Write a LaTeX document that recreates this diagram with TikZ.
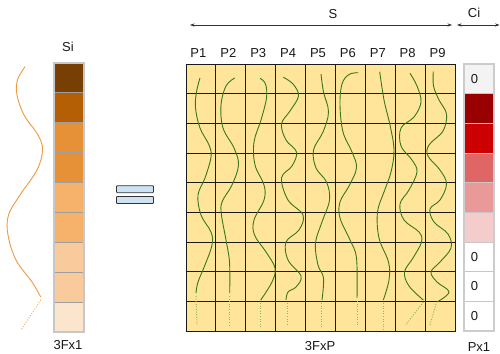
\documentclass[tikz,border=0pt]{standalone}
\usepackage{fontspec}
\setmainfont{Liberation Sans}
\usetikzlibrary{arrows.meta}
\definecolor{gridfill}{HTML}{FFE599}
\definecolor{sA}{HTML}{783F04}
\definecolor{sB}{HTML}{B45F06}
\definecolor{sC}{HTML}{E69138}
\definecolor{sD}{HTML}{F6B26B}
\definecolor{sE}{HTML}{F9CB9C}
\definecolor{sF}{HTML}{FCE5CD}
\definecolor{cA}{HTML}{F3F3F3}
\definecolor{cB}{HTML}{990000}
\definecolor{cC}{HTML}{CC0000}
\definecolor{cD}{HTML}{E06666}
\definecolor{cE}{HTML}{EA9999}
\definecolor{cF}{HTML}{F4CCCC}
\definecolor{eqfill}{HTML}{CFE2F3}
\definecolor{wavegreen}{HTML}{38761D}
\definecolor{dotgreen}{HTML}{93B555}
\definecolor{waveorange}{HTML}{EE9A3E}
\begin{document}
\begin{tikzpicture}[x=1pt,y=-1pt,
  font=\fontsize{13}{15}\selectfont,
  lab/.style={inner sep=0pt, text=black!90},
  gcell/.style={draw=black!90, line width=0.8pt, fill=gridfill, minimum width=29.889pt, minimum height=29.667pt, inner sep=0pt},
  scell/.style={draw=black!38, line width=0.8pt, minimum width=30pt, minimum height=29.889pt, inner sep=0pt},
  ccell/.style={draw=black!22, line width=0.8pt, minimum width=30pt, minimum height=29.667pt, inner sep=0pt},
  eqbar/.style={draw=black!80, fill=eqfill, line width=0.8pt, rounded corners=0.8pt, minimum width=37pt, minimum height=7pt, inner sep=0pt},
  dimarrow/.style={draw=black!80, line width=0.6pt, {Stealth[length=4.5pt,width=3.2pt]}-{Stealth[length=4.5pt,width=3.2pt]}},
  wave/.style={draw=wavegreen, line width=0.9pt},
  wavedot/.style={draw=dotgreen, line width=1pt, dash pattern=on 1pt off 1.6pt},
]
\useasboundingbox (0,0) rectangle (500,353);
\fill[white] (0,0) rectangle (500,353);

% ---- left column Si ----
\foreach \i/\col in {1/sA,2/sB,3/sC,4/sC,5/sD,6/sD,7/sE,8/sE,9/sF}{
  \node[scell, fill=\col] (s\i) at (69,{63+(\i-0.5)*29.889}) {};
}
\node[draw=black!22, line width=1.5pt, minimum width=30pt, minimum height=269pt, inner sep=0pt] (scol) at (69,197.5) {};
\node[lab] (si) at (68,46.5) {Si};
\node[lab] (s3f) at (68,345.5) {3Fx1};

% orange wave
\draw[draw=waveorange, line width=0.9pt] plot[smooth, tension=0.6] coordinates {(25,66.7) (17.5,80) (17,95) (24,115) (38,135) (42.5,150) (37,170) (20,195) (8.5,215) (8,235) (16,260) (32,282) (40.7,297)};
\draw[draw=waveorange!75, line width=1pt, dash pattern=on 1pt off 1.6pt] (40.7,300) -- (21,330);

% ---- equals sign ----
\node[eqbar] (eq1) at (135,189.2) {};
\node[eqbar] (eq2) at (135,200) {};

% ---- grid ----
\foreach \c in {1,...,9}{
  \foreach \r in {1,...,9}{
    \node[gcell] (g\c-\r) at ({186+(\c-0.5)*29.889},{64+(\r-0.5)*29.667}) {};
  }
  \node[lab] (p\c) at ({183.5+(\c-0.5)*29.889},53) {P\c};
}
\node[lab] (g3f) at (320,346.5) {3FxP};

% dimension arrows
\coordinate (sl) at (190,25);
\coordinate (sr) at (452,25);
\draw[dimarrow] (sl) -- (sr);
\node[lab] (slab) at (333,14) {S};
\coordinate (cl) at (457,25);
\coordinate (cr) at (499.5,25);
\draw[dimarrow] (cl) -- (cr);
\node[lab] (clab) at (474,12.5) {Ci};

% ---- green waves ----
\draw[wave] plot[smooth, tension=0.6] coordinates {(200,78) (196.5,92) (195.5,108) (200,128) (209,145) (211,157) (205,178) (198,195) (201,215) (211,232) (212,245) (205,265) (198,282) (196,293)};
\draw[wave] plot[smooth, tension=0.6] coordinates {(234.7,78) (226,86) (221,105) (223,128) (234,148) (238.5,165) (232,185) (222,202) (221.5,215) (226,240) (229.5,262) (229.7,293)};
\draw[wave] plot[smooth, tension=0.6] coordinates {(260,78.3) (265.5,84) (266.5,98) (261,120) (254,142) (255,165) (264,185) (264,200) (254,220) (254.5,235) (266,252) (275,268) (272,282) (260.7,300)};
\draw[wave] plot[smooth, tension=0.6] coordinates {(283.3,77.3) (293,84) (298.5,96) (290,111) (281.5,124) (286,140) (296.5,152) (292,166) (281.5,178) (288,200) (303,215) (299,230) (286,242) (288,260) (301,276) (296,287) (288,292) (286,300)};
\draw[wave] plot[smooth, tension=0.6] coordinates {(321,74) (323.5,92) (328.5,112) (323,132) (313.5,150) (316,168) (326.5,182) (329.5,200) (322,222) (315.5,243) (318,265) (323.5,278) (322,300)};
\draw[wave] plot[smooth, tension=0.6] coordinates {(358.3,72.7) (349,74.5) (342,84) (340,105) (343,132) (352,152) (356.5,168) (349,186) (340,202) (340,218) (350,240) (356.5,258) (357,298)};
\draw[wave] plot[smooth, tension=0.6] coordinates {(379.7,71.7) (384,100) (390,125) (394,150) (391,172) (384,192) (377.5,212) (379,238) (388.5,262) (389,280) (383.3,300)};
\draw[wave] plot[smooth, tension=0.6] coordinates {(410,73.3) (417,86) (421,102) (414,117) (401,128) (401,146) (412,160) (417,172) (409,190) (400,204) (404,220) (419,232) (421.5,242) (413,258) (404.5,272) (409,286) (423.3,300)};
\draw[wave] plot[smooth, tension=0.6] coordinates {(433.3,71.7) (433.5,86) (439,100) (446.5,114) (443,131) (429,145) (428,156) (440,170) (446.5,184) (440,200) (430,209) (434,222) (448,234) (451,248) (440,262) (431,272) (437,282) (449,292) (437,302)};

% dotted continuations
\draw[wavedot] (196,296) -- (197,325);
\draw[wavedot] (229.7,296) -- (229.7,325);
\draw[wavedot] (260.7,303) -- (260.7,327);
\draw[wavedot] (287,303) -- (287,325);
\draw[wavedot] (321.7,303) -- (321.7,328);
\draw[wavedot] (357,301) -- (357,327);
\draw[wavedot] (383.3,303) -- (383.3,330);
\draw[wavedot] (423.3,302) -- (405.7,325);
\draw[wavedot] (436,304) -- (430,325);

% ---- right column Ci ----
\foreach \i/\col in {1/cA,2/cB,3/cC,4/cD,5/cE,6/cF,7/white,8/white,9/white}{
  \node[ccell, fill=\col] (c\i) at (479,{64+(\i-0.5)*29.667}) {};
}
\node[draw=black!20, line width=1.2pt, minimum width=30pt, minimum height=267pt, inner sep=0pt] (ccol) at (479,197.5) {};
\foreach \i in {1,7,8,9}{
  \node[lab] (z\i) at (474.5,{64+(\i-0.5)*29.667}) {0};
}
\node[lab] (c3f) at (479,347) {Px1};
\end{tikzpicture}
\end{document}
